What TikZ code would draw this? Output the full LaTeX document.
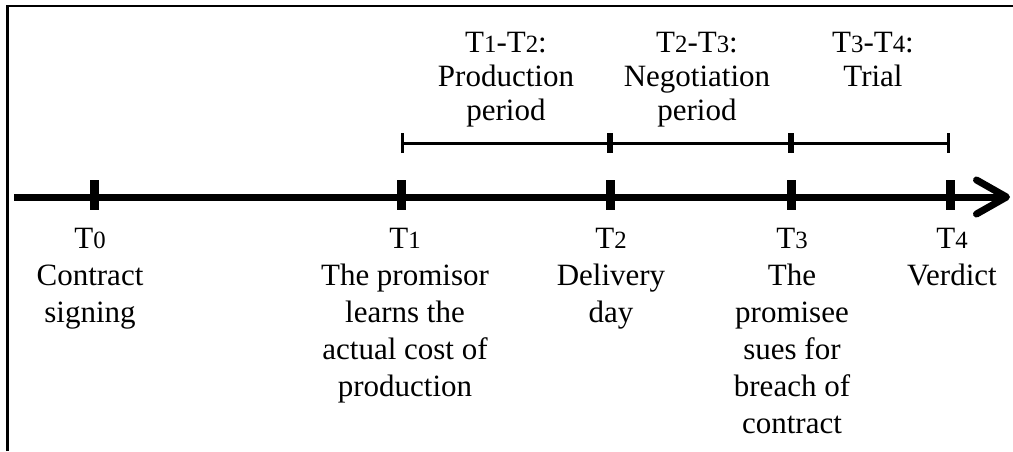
\documentclass[tikz,border=0pt]{standalone}
\usepackage{fontspec}
\setmainfont{Liberation Serif}
\usetikzlibrary{arrows.meta}
\newcommand{\Tsub}[1]{T{\fontsize{12.4pt}{12.4pt}\selectfont #1}}
\tikzset{
  border/.style={line width=1.3pt},
  timeline/.style={-{Straight Barb[length=15pt,width=17pt,round]},line width=3.5pt},
  tickmark/.style={line width=4.5pt},
  spanbar/.style={{Bar[width=10pt]}-{Bar[width=10pt]},line width=1.5pt},
  event/.style={anchor=north,inner sep=0pt,align=center,font=\fontsize{15.5pt}{18.5pt}\selectfont},
  periodlabel/.style={anchor=north,inner sep=0pt,align=center,font=\fontsize{15.5pt}{17pt}\selectfont}
}

\begin{document}
\begin{tikzpicture}[x=0.5pt,y=-0.5pt]
  \useasboundingbox (0,0) rectangle (1013,451);

  % frame cut off at the right and bottom
  \draw[border] (7.5,451) -- (7.5,6) -- (1013,6);

  \coordinate (start) at (14,197);
  \coordinate (end) at (1010,197);
  \coordinate (t0) at (94,197);
  \coordinate (t1) at (401,197);
  \coordinate (t2) at (610,197);
  \coordinate (t3) at (791,197);
  \coordinate (t4) at (950,197);

  \coordinate (p1) at (401,143);
  \coordinate (p2) at (610,143);
  \coordinate (p3) at (791,143);
  \coordinate (p4) at (950,143);

  \draw[timeline] (start) -- (end);
  \draw[tickmark] (t0) ++(0,-17) -- ++(0,30);
  \draw[tickmark] (t1) ++(0,-17) -- ++(0,30);
  \draw[tickmark] (t2) ++(0,-17) -- ++(0,30);
  \draw[tickmark] (t3) ++(0,-17) -- ++(0,30);
  \draw[tickmark] (t4) ++(0,-17) -- ++(0,30);

  \draw[spanbar] (p1) -- (p2);
  \draw[spanbar] (p2) -- (p3);
  \draw[spanbar] (p3) -- (p4);

  \node[periodlabel] (d12) at (506,32) {\Tsub{1}-\Tsub{2}:\\Production\\period};
  \node[periodlabel] (d23) at (697,32) {\Tsub{2}-\Tsub{3}:\\Negotiation\\period};
  \node[periodlabel] (d34) at (873,32) {\Tsub{3}-\Tsub{4}:\\Trial};

  \node[event] (e0) at (90,228) {\Tsub{0}\\Contract\\signing};
  \node[event] (e1) at (405,228) {\Tsub{1}\\The promisor\\learns the\\actual cost of\\production};
  \node[event] (e2) at (611,228) {\Tsub{2}\\Delivery\\day};
  \node[event] (e3) at (792,228) {\Tsub{3}\\The\\promisee\\sues for\\breach of\\contract};
  \node[event] (e4) at (952,228) {\Tsub{4}\\Verdict};
\end{tikzpicture}
\end{document}
